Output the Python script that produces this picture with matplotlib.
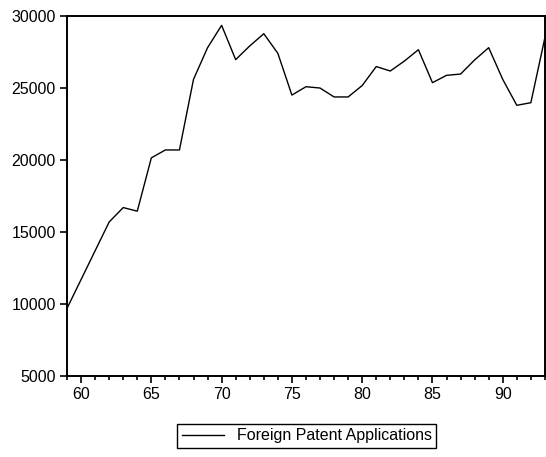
import matplotlib
matplotlib.use("Agg")
import matplotlib.pyplot as plt
from matplotlib.ticker import MultipleLocator

plt.rcParams['font.family'] = ['Liberation Sans', 'DejaVu Sans']

# Data
years = list(range(59, 94))
applications = [9700, 11700, 13700, 15700, 16700, 16450, 20150, 20700, 20700, 25600,
                27800, 29350, 26970, 27920, 28770, 27410, 24510, 25090, 25000, 24380,
                24380, 25170, 26490, 26180, 26870, 27660, 25370, 25880, 25970, 26950,
                27800, 25600, 23800, 23980, 28500]

fig = plt.figure(figsize=(5.46, 4.57), dpi=100)
ax = fig.add_axes([0.1227, 0.177, 0.8753, 0.788])

ax.plot(years, applications, color='black', lw=1.0, label='Foreign Patent Applications')

ax.set_xlim(59, 93)
ax.set_ylim(5000, 30000)
ax.xaxis.set_major_locator(MultipleLocator(5))
ax.xaxis.set_minor_locator(MultipleLocator(1))
ax.yaxis.set_major_locator(MultipleLocator(5000))

for s in ax.spines.values():
    s.set_linewidth(1.4)
ax.tick_params(axis='both', which='major', length=5, width=1.2, labelsize=11.5,
               direction='out', pad=3)
ax.tick_params(axis='x', which='minor', length=3, width=1.2, direction='out')
ax.tick_params(top=False, right=False)

fig.legend(loc='center', bbox_to_anchor=(0.562, 0.046), fontsize=11.5,
           frameon=True, fancybox=False, edgecolor='black', framealpha=1,
           handlelength=2.6, borderpad=0.3)

fig.savefig('out.png', dpi=100)
